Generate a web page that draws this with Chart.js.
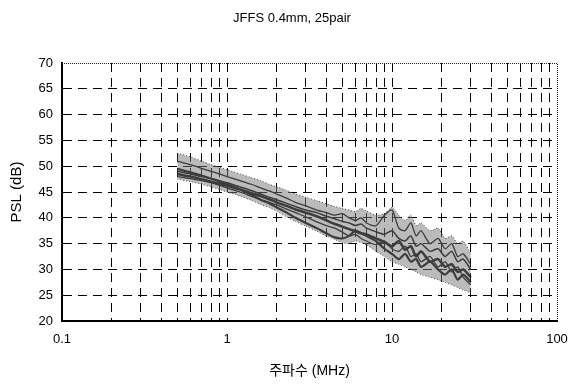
<!DOCTYPE html>
<html>
<head>
<meta charset="utf-8">
<script src="https://cdn.jsdelivr.net/npm/chart.js@4.4.1/dist/chart.umd.min.js"></script>
<style>
  html, body { margin: 0; padding: 0; background: #fff; }
  #wrap { width: 572px; height: 387px; }
</style>
</head>
<body>
<div id="wrap"><canvas id="psl"></canvas></div>
<script>
// frequency points (MHz)
const freq = [0.5, 0.6, 0.7, 0.8, 0.9, 1, 1.2, 1.4, 1.6, 1.8, 2, 2.3, 2.6, 3, 3.5, 4, 4.5, 5, 5.5, 6,
              6.5, 7, 8, 9, 10, 11, 12, 13, 14, 15, 17, 19, 21, 23, 25, 27, 30];

// upper / lower envelope of the pair bundle
const upperEnv = [52.5, 51.8, 51, 50.3, 49.8, 49.3, 48.5, 47.8, 47.2, 46.5, 46, 45.3, 44.6, 44, 43.3, 42.7, 42.2, 41.8, 41.5, 41.2,
                  41.8, 41.3, 40.5, 40.8, 42, 40.5, 39.5, 40.5, 38.5, 39, 37.5, 38, 36, 36.5, 35, 35.5, 33];
const lowerEnv = [47.5, 47, 46.5, 46, 45.5, 45, 44.2, 43.4, 42.6, 42, 41.3, 40.2, 39.3, 38.4, 37.4, 36.5, 35.8, 35.2, 35, 35.5,
                  35.2, 34.8, 33.5, 32.5, 31.5, 31, 30.5, 30, 29.5, 29, 28.5, 28, 27.5, 27, 26.5, 26, 25.5];

// individual pairs
const pairA = [48.5, 48, 47.5, 47, 46.6, 46.2, 45.5, 44.8, 44.2, 43.6, 43, 42.3, 41.6, 41, 40.3, 39.5, 38.8, 38.3, 37.8, 37.4,
               37, 36.8, 36, 35.3, 34.5, 35.5, 33.8, 34.5, 32.5, 33.5, 31.5, 32, 30.5, 31, 29.5, 30, 28.5];
const pairB = [49.5, 48.8, 48.2, 47.6, 47, 46.5, 45.5, 44.5, 43.5, 42.8, 42, 41, 40, 39, 38, 37, 36.2, 36, 36.5, 37.5,
               37, 36.5, 35.5, 34, 33, 32, 33, 31.5, 32, 30.5, 31.5, 30, 29, 30, 28, 29, 27.5];
const pairC = [51, 50.3, 49.6, 49, 48.5, 48, 47.2, 46.5, 45.8, 45.2, 44.6, 43.8, 43, 42.3, 41.5, 41, 40.5, 40.8, 40, 39.5,
               40, 39, 38.5, 40.5, 41.5, 38, 37.5, 39, 36.5, 37.5, 35, 36, 34, 35, 32.5, 33, 31];
const pairD = [49, 48.5, 48, 47.6, 47.2, 46.8, 46, 45.3, 44.6, 44, 43.5, 42.8, 42.2, 41.5, 41, 40.3, 39.8, 39.3, 39, 38.5,
               38.8, 38, 37.3, 36.8, 37.5, 36, 35.5, 36.5, 34.5, 35, 33.5, 34, 32.5, 33.5, 31.5, 32, 30];
const pairE = [48, 47.6, 47.2, 46.8, 46.3, 45.8, 45, 44.2, 43.5, 43, 42.5, 41.7, 41, 40.2, 39.2, 38.5, 38, 37.2, 36.5, 36.8,
               36, 35.5, 34.8, 35.5, 34, 33.5, 34.5, 32.5, 33, 31.5, 32.5, 30.5, 31.5, 29.5, 30.5, 28.5, 27];

const yTicks = [20, 25, 30, 35, 40, 45, 50, 55, 60, 65, 70];
const xTicks = [0.1, 0.2, 0.3, 0.4, 0.5, 0.6, 0.7, 0.8, 0.9,
                1, 2, 3, 4, 5, 6, 7, 8, 9,
                10, 20, 30, 40, 50, 60, 70, 80, 90, 100];
const xLabels = [0.1, 1, 10, 100];

const pts = arr => freq.map((f, i) => ({ x: f, y: arr[i] }));

const FONT = '"Liberation Sans", Arial, "Noto Sans CJK KR", sans-serif';

const frameAndTitle = {
    id: 'frameAndTitle',
    afterDraw(chart) {
        const { ctx, chartArea: a } = chart;
        ctx.save();
        ctx.strokeStyle = '#222';
        ctx.lineWidth = 1;
        ctx.setLineDash([1, 1]);
        ctx.beginPath();
        ctx.moveTo(a.left, a.top + 0.5);
        ctx.lineTo(a.right + 0.5, a.top + 0.5);
        ctx.lineTo(a.right + 0.5, a.bottom);
        ctx.stroke();
        ctx.setLineDash([]);
        ctx.fillStyle = '#000';
        ctx.font = '13px ' + FONT;
        ctx.textAlign = 'center';
        ctx.textBaseline = 'middle';
        ctx.fillText('JFFS 0.4mm, 25pair', 292, 18);
        ctx.restore();
    }
};

const hideEdge = (vals, color) => c => (c.tick && vals.includes(c.tick.value)) ? 'rgba(0,0,0,0)' : color;

new Chart(document.getElementById('psl').getContext('2d'), {
    type: 'line',
    data: {
        datasets: [
            { data: pts(upperEnv), borderColor: '#444', borderWidth: 1, borderDash: [1, 2],
              fill: 1, backgroundColor: 'rgba(120,120,120,0.5)' },
            { data: pts(lowerEnv), borderColor: '#444', borderWidth: 1, borderDash: [1, 2], fill: false },
            { data: pts(pairC), borderColor: '#000', borderWidth: 1.3, fill: false },
            { data: pts(pairE), borderColor: '#000', borderWidth: 1.3, fill: false },
            { data: pts(pairD), borderColor: '#000', borderWidth: 1.5, fill: false },
            { data: pts(pairB), borderColor: '#000', borderWidth: 2.2, fill: false },
            { data: pts(pairA), borderColor: '#000', borderWidth: 2.5, fill: false }
        ]
    },
    options: {
        responsive: true,
        maintainAspectRatio: false,
        animation: false,
        layout: { padding: { top: 63, right: 15, left: 0, bottom: 0 } },
        elements: { point: { radius: 0 }, line: { tension: 0.25 } },
        plugins: { legend: { display: false }, tooltip: { enabled: false } },
        scales: {
            x: {
                type: 'logarithmic',
                min: 0.1,
                max: 100,
                afterBuildTicks: s => { s.ticks = xTicks.map(v => ({ value: v })); },
                afterFit: s => { s.height = 66; s.paddingRight = 0; s.paddingLeft = 0; },
                ticks: {
                    autoSkip: false,
                    maxRotation: 0,
                    padding: 11,
                    color: '#000',
                    font: { family: FONT, size: 13 },
                    callback: v => xLabels.includes(v) ? String(v) : ''
                },
                grid: { drawTicks: false, color: hideEdge([0.1, 100], '#000'), lineWidth: 1 },
                border: { display: true, color: '#000', width: 2, dash: [9, 6] },
                title: { display: true, text: '주파수 (MHz)', color: '#000',
                         font: { family: FONT, size: 14 }, padding: { top: 4, bottom: 7 } }
            },
            y: {
                min: 20,
                max: 70,
                afterBuildTicks: s => { s.ticks = yTicks.map(v => ({ value: v })); },
                afterFit: s => { s.width = 62; },
                ticks: {
                    padding: 9,
                    color: '#000',
                    font: { family: FONT, size: 13 }
                },
                grid: { drawTicks: false, color: hideEdge([20, 70], '#000'), lineWidth: 1 },
                border: { display: true, color: '#000', width: 2, dash: [9, 6] },
                title: { display: true, text: 'PSL (dB)', color: '#000',
                         font: { family: FONT, size: 15 }, padding: { top: 8, bottom: 0 } }
            }
        }
    },
    plugins: [frameAndTitle]
});
</script>
</body>
</html>
